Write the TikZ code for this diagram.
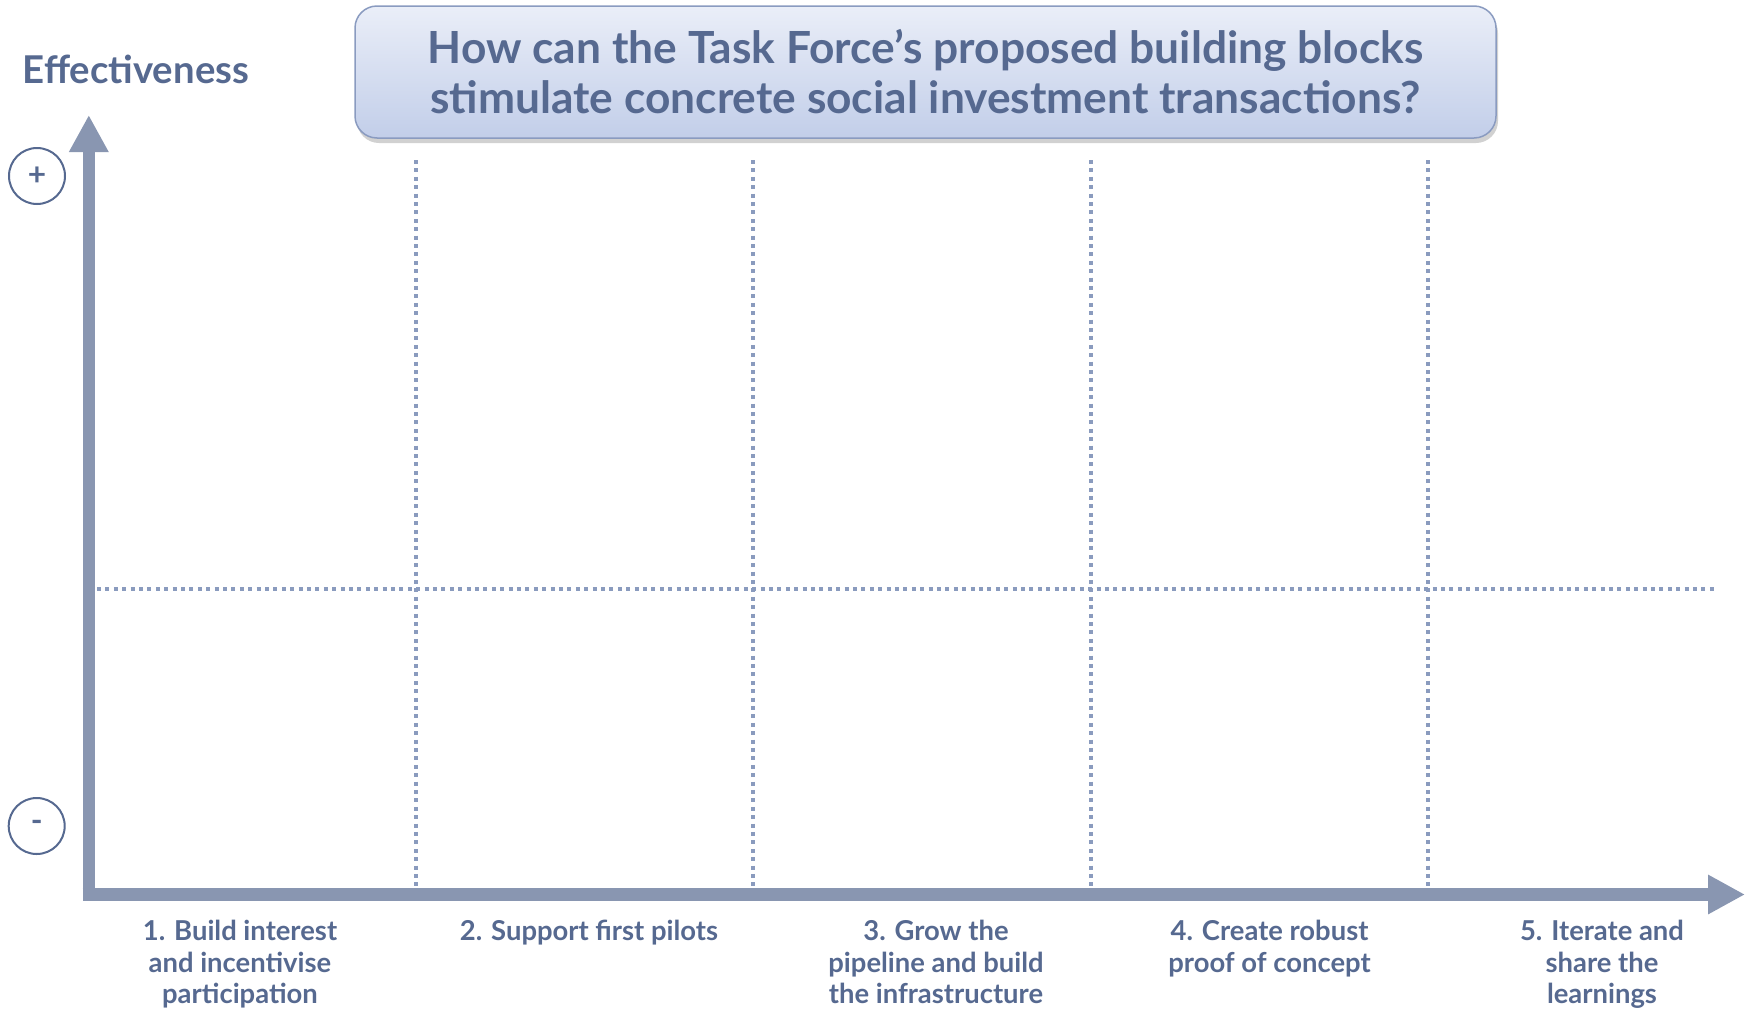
\documentclass[tikz,border=0pt]{standalone}
\usepackage{fontspec}
\setmainfont{Lato}
\usetikzlibrary{arrows.meta,shadows}

\definecolor{axisblue}{HTML}{8996B1}
\definecolor{inkblue}{HTML}{566990}
\definecolor{dotblue}{HTML}{8A9BBE}
\definecolor{boxtop}{HTML}{EAEEF8}
\definecolor{boxbottom}{HTML}{C2CEE9}
\definecolor{boxline}{HTML}{8A9BC0}

\begin{document}
\begin{tikzpicture}[
        axisline/.style={draw=axisblue,line width=0.125cm,
          -{Triangle[width=0.37cm,length=0.37cm]}},
        gridline/.style={draw=dotblue,line width=0.04cm,
          dash pattern=on 0.04cm off 0.044cm},
        bigtext/.style={text=inkblue,font=\fontsize{12.6}{14.2}\selectfont\bfseries},
        phaselabel/.style={text=inkblue,align=center,anchor=north,inner sep=0pt,
          font=\fontsize{7.8}{9}\selectfont\bfseries},
        signmark/.style={circle,draw=inkblue,line width=0.02cm,minimum size=0.56cm,
          inner sep=0pt,text=inkblue,font=\fontsize{9}{10}\selectfont\bfseries}
        ]
        \useasboundingbox (0,0) rectangle (17.52,10.12) ;
        %\draw[very thin,gray,step=0.5] (0,0) grid (17.52,10.12) ;

        % the question on top
        \node[bigtext,align=center,rounded corners=0.22cm,draw=boxline,line width=0.015cm,
          top color=boxtop,bottom color=boxbottom,minimum width=11.41cm,minimum height=1.32cm,
          drop shadow={shadow xshift=0.02cm,shadow yshift=-0.05cm,opacity=0.3,fill=black!60}]
          (question) at (9.255,9.40)
          {How can the Task Force’s proposed building blocks\\
           stimulate concrete social investment transactions?} ;

        % dotted grid
        \draw[gridline] (4.156,8.52) -- (4.156,1.25) ;
        \draw[gridline] (7.531,8.52) -- (7.531,1.25) ;
        \draw[gridline] (10.906,8.52) -- (10.906,1.25) ;
        \draw[gridline] (14.281,8.52) -- (14.281,1.25) ;
        \draw[gridline] (0.97,4.23) -- (17.15,4.23) ;

        % axes
        \coordinate (corner) at (0.888,1.113) ;
        \coordinate (ytip) at (0.888,8.97) ;
        \coordinate (xtip) at (17.45,1.175) ;
        \draw[axisline] (corner) -- (ytip) ;
        \draw[axisline] (corner -| 0.826,0) ++(0,0.062) -- (xtip) ;

        \node[bigtext,anchor=base,font=\fontsize{10.9}{13}\selectfont\bfseries]
          (effect) at (1.359,9.287) {Effectiveness} ;
        \node[signmark] (plus) at (0.37,8.36) {+} ;
        \node[signmark] (minus) at (0.367,1.86) {-} ;

        % phases along the x axis
        \node[phaselabel] (phase1) at (2.40,0.925)
          {1. Build interest\\ and incentivise\\ participation} ;
        \node[phaselabel] (phase2) at (5.89,0.925) {2. Support first pilots} ;
        \node[phaselabel] (phase3) at (9.36,0.925)
          {3. Grow the\\ pipeline and build\\ the infrastructure} ;
        \node[phaselabel] (phase4) at (12.695,0.925)
          {4. Create robust\\ proof of concept} ;
        \node[phaselabel] (phase5) at (16.02,0.925)
          {5. Iterate and\\ share the\\ learnings} ;
      \end{tikzpicture}
\end{document}
